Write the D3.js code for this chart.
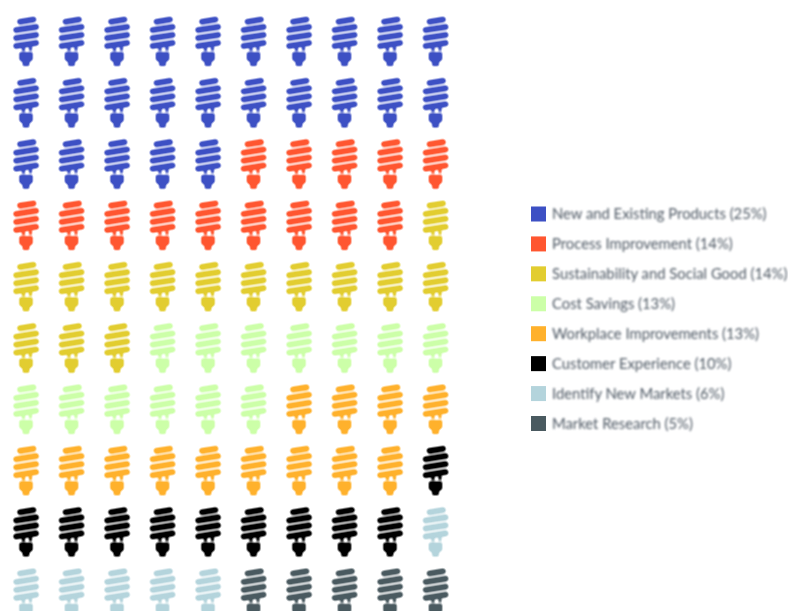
<!DOCTYPE html>
<html>
<head>
<meta charset="utf-8">
<script src="https://cdn.jsdelivr.net/npm/d3@7"></script>
<style>
  html, body { margin: 0; padding: 0; background: #fff; overflow: hidden; }
  svg { display: block; }
  .legend text { font-family: Lato, sans-serif; font-size: 14.8px; fill: #858c94; }
</style>
</head>
<body>
<svg width="788" height="611"></svg>
<script>
var categories = ["New and Existing Products", "Process Improvement", "Sustainability and Social Good",
  "Cost Savings", "Workplace Improvements", "Customer Experience", "Identify New Markets", "Market Research"];
var bulbCounts = [25, 14, 14, 13, 13, 10, 6, 5];
var percents = [25, 14, 14, 13, 13, 10, 6, 5];
var colors = ["#3d50c4", "#ff5630", "#e2cd30", "#ccffa8", "#ffb12c", "#000000", "#b4d4dc", "#4a5a60"];

var svg = d3.select("svg");

// soft edges, the reference is a scaled up raster
// small blurs get rounded away by the browser, so blur more and tighten the alpha again
var defs = svg.append("defs");
var soft = defs.append("filter").attr("id", "soft")
    .attr("x", "-5%").attr("y", "-5%").attr("width", "110%").attr("height", "110%")
    .attr("color-interpolation-filters", "sRGB");
soft.append("feGaussianBlur").attr("stdDeviation", 0.8);
soft.append("feComponentTransfer")
  .append("feFuncA").attr("type", "linear").attr("slope", 1.6).attr("intercept", -0.25);

var soft2 = defs.append("filter").attr("id", "soft2")
    .attr("x", "-5%").attr("y", "-5%").attr("width", "110%").attr("height", "110%")
    .attr("color-interpolation-filters", "sRGB");
soft2.append("feGaussianBlur").attr("stdDeviation", 0.8);
soft2.append("feComponentTransfer")
  .append("feFuncA").attr("type", "linear").attr("slope", 1.45).attr("intercept", 0);

var bulb = defs.append("g").attr("id", "bulb");
bulb.append("path")
    .attr("d", "M6.5,5L20,2.8M2.6,13.4L22.6,10.2M2.6,21.4L22.6,18.2M2.6,29.4L22.6,26.2")
    .attr("fill", "none")
    .attr("stroke", "currentColor")
    .attr("stroke-width", 5.6)
    .attr("stroke-linecap", "round");
bulb.append("path")
    .attr("d", "M8.5,31L11.5,31L11.5,34.5L8.5,34.5ZM15.5,30L18.5,30L18.5,34L15.5,34Z" +
               "M5.8,35.6L19.2,35.6L19.2,43L15.8,45.6L15.8,49.4L9.2,49.4L9.2,45.6L5.8,43Z")
    .attr("fill", "currentColor");

// one entry per bulb, filled row by row
var cells = [];
bulbCounts.forEach(function(n, c) {
  d3.range(n).forEach(function() { cells.push(c); });
});

var xScale = d3.scalePoint().domain(d3.range(10)).range([13.5, 423]);
var yScale = d3.scalePoint().domain(d3.range(10)).range([16.7, 568.5]);

var g = svg.append("g").attr("filter", "url(#soft)");
g.selectAll("use")
  .data(cells)
  .enter().append("use")
    .attr("href", "#bulb")
    .attr("x", function(d, i) { return xScale(i % 10); })
    .attr("y", function(d, i) { return yScale(Math.floor(i / 10)); })
    .style("color", function(d) { return colors[d]; });

var legendY = d3.scalePoint().domain(d3.range(categories.length)).range([214, 423.5]);

var legend = svg.append("g").attr("class", "legend");

legend.selectAll("rect")
  .data(categories)
  .enter().append("rect")
    .attr("x", 531)
    .attr("y", function(d, i) { return legendY(i) - 7.5; })
    .attr("width", 15)
    .attr("height", 15)
    .attr("fill", function(d, i) { return colors[i]; });

legend.append("g").attr("filter", "url(#soft2)")
  .selectAll("text")
  .data(categories)
  .enter().append("text")
    .attr("x", 552)
    .attr("y", function(d, i) { return legendY(i); })
    .attr("dy", "0.35em")
    .text(function(d, i) { return d + " (" + percents[i] + "%)"; });
</script>
</body>
</html>
